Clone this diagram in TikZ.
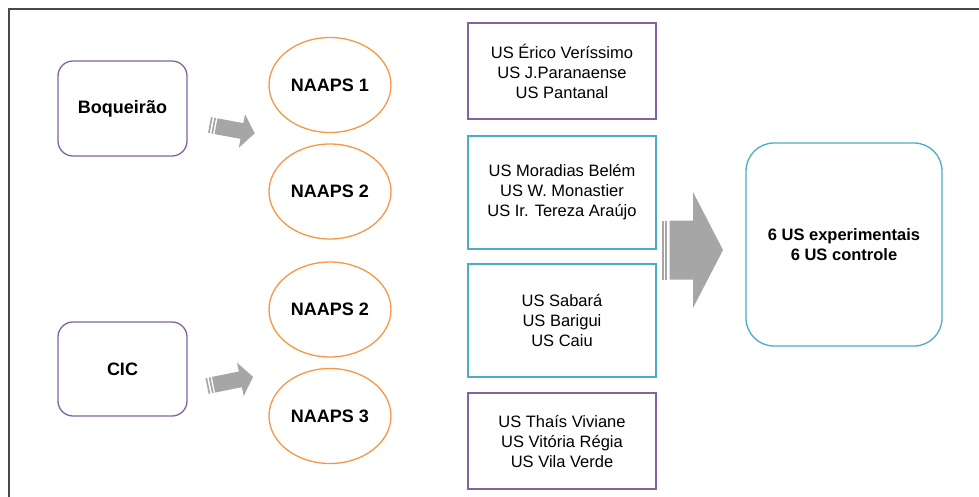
\documentclass[tikz,border=0pt]{standalone}
\usepackage{fontspec}
\setmainfont{Liberation Sans}
\usetikzlibrary{shapes.geometric}
\definecolor{purp}{HTML}{8064A2}
\definecolor{orng}{HTML}{F79646}
\definecolor{teal2}{HTML}{4BACC6}
\definecolor{agray}{HTML}{A6A6A6}
\definecolor{frame}{HTML}{4A4A4A}
\tikzset{
  every node/.style={inner sep=0pt, outer sep=0pt, text=black},
  region/.style={draw=purp, line width=1.3pt, rounded corners=15pt, fill=white,
    font=\fontsize{18}{21}\selectfont\bfseries},
  naaps/.style={ellipse, draw=orng, line width=1.3pt, minimum width=122pt, minimum height=95pt,
    font=\fontsize{18}{21}\selectfont\bfseries},
  usbox/.style={draw=#1, line width=1.3pt, minimum width=188pt, align=center,
    font=\fontsize{16.5}{20}\selectfont},
  final/.style={draw=teal2, line width=1.3pt, rounded corners=28pt, align=center,
    minimum width=196pt, minimum height=203pt, font=\fontsize{16.5}{20.5}\selectfont\bfseries},
  blk/.style={fill=agray, draw=none},
}
% striped block arrow: #1 length, #2 head length, #3 head half width, #4 shaft half width, #5 solid start
\newcommand{\stripearrow}[5]{%
  \fill[agray] (0,-#4) rectangle (1.7,#4);
  \fill[agray] (3.4,-#4) rectangle (5.1,#4);
  \fill[agray] (#5,-#4) -- (#1-#2,-#4) -- (#1-#2,-#3) -- (#1,0) -- (#1-#2,#3) -- (#1-#2,#4) -- (#5,#4) -- cycle;
}
\begin{document}
\begin{tikzpicture}[x=1pt,y=-1pt]
\useasboundingbox (0,0) rectangle (979,496);
\draw[frame, line width=1.6pt] (9,497) -- (9,9) -- (980,9);

\node[region, minimum width=129pt, minimum height=95pt] (boq) at (122.5,108.5) {Boqueirão};
\node[region, minimum width=129pt, minimum height=94pt] (cic) at (122.5,369) {CIC};

\node[naaps] (n1) at (330,85) {NAAPS 1};
\node[naaps] (n2a) at (330,191.5) {NAAPS 2};
\node[naaps] (n2b) at (330,309.5) {NAAPS 2};
\node[naaps] (n3) at (330,416) {NAAPS 3};

\node[usbox=purp, minimum height=96pt] (u1) at (562,71) {US Érico Veríssimo\\US J.Paranaense\\US Pantanal};
\node[usbox=teal2, minimum height=113pt] (u2) at (562,192.5) {US Moradias Belém\\US W. Monastier\\US Ir. Tereza Araújo};
\node[usbox=teal2, minimum height=113pt] (u3) at (562,320.5) {US Sabará\\US Barigui\\US Caiu};
\node[usbox=purp, minimum height=96pt] (u4) at (562,441) {US Thaís Viviane\\US Vitória Régia\\US Vila Verde};

\node[final] (fin) at (844,244.5) {6 US experimentais\\6 US controle};

\begin{scope}[shift={(209.5,125)}, rotate=-10.5]
  \stripearrow{46}{13}{17}{8}{6.6}
\end{scope}
\begin{scope}[shift={(207,386)}, rotate=11.3]
  \stripearrow{47}{13}{17}{8}{6.6}
\end{scope}
\begin{scope}[shift={(662,250)}]
  \stripearrow{61}{30}{58}{29.5}{7.7}
\end{scope}
\end{tikzpicture}
\end{document}
